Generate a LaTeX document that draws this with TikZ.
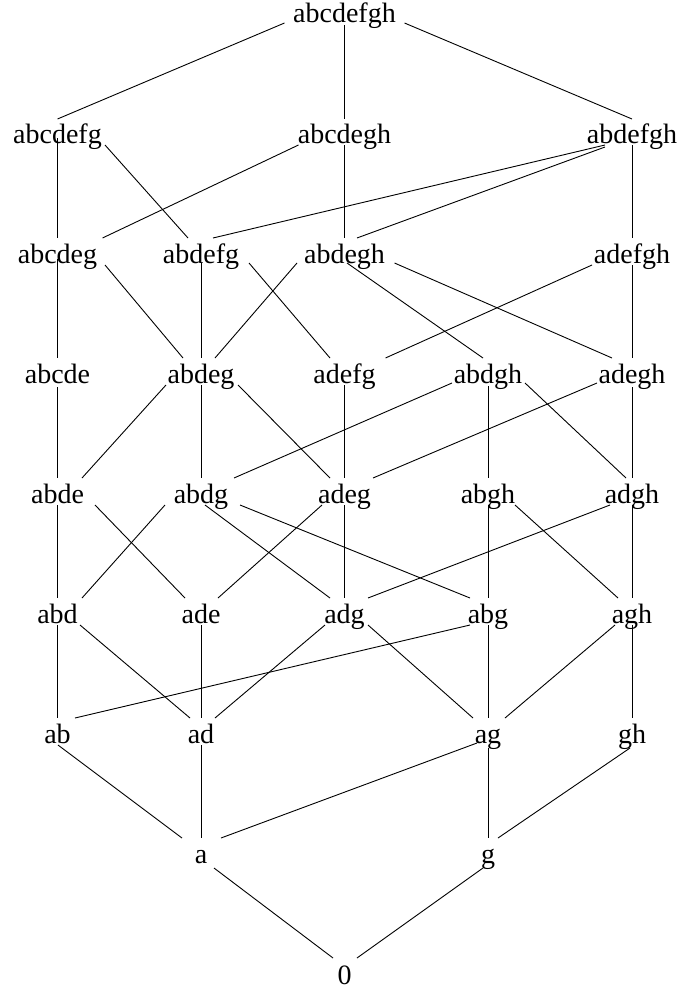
\documentclass[tikz,border=0pt]{standalone}
\usepackage{fontspec}
\setmainfont{Liberation Serif}
\newcommand\lnk[6]{\draw[edge] ([shift={(#2pt,#3pt)}]#1.base) -- ([shift={(#5pt,#6pt)}]#4.base);}
\begin{document}
\begin{tikzpicture}[x=1pt,y=-1pt,
  lbl/.style={anchor=base,inner sep=0pt,font=\fontsize{28}{32}\selectfont},
  edge/.style={line width=0.9pt,black}]
\useasboundingbox (0,0) rectangle (683,990);
% row 0
\node[lbl] (abcdefgh) at (344.5,23) {abcdefgh};
% row 1
\node[lbl] (abcdefg) at (57.5,143) {abcdefg};
\node[lbl] (abcdegh) at (344.5,143) {abcdegh};
\node[lbl] (abdefgh) at (632,143) {abdefgh};
% row 2
\node[lbl] (abcdeg) at (57.5,263) {abcdeg};
\node[lbl] (abdefg) at (201,263) {abdefg};
\node[lbl] (abdegh) at (344.5,263) {abdegh};
\node[lbl] (adefgh) at (632,263) {adefgh};
% row 3
\node[lbl] (abcde) at (57.5,383) {abcde};
\node[lbl] (abdeg) at (201,383) {abdeg};
\node[lbl] (adefg) at (344.5,383) {adefg};
\node[lbl] (abdgh) at (488,383) {abdgh};
\node[lbl] (adegh) at (632,383) {adegh};
% row 4
\node[lbl] (abde) at (57.5,503) {abde};
\node[lbl] (abdg) at (201,503) {abdg};
\node[lbl] (adeg) at (344.5,503) {adeg};
\node[lbl] (abgh) at (488,503) {abgh};
\node[lbl] (adgh) at (632,503) {adgh};
% row 5
\node[lbl] (abd) at (57.5,623) {abd};
\node[lbl] (ade) at (201,623) {ade};
\node[lbl] (adg) at (344.5,623) {adg};
\node[lbl] (abg) at (488,623) {abg};
\node[lbl] (agh) at (632,623) {agh};
% row 6
\node[lbl] (ab) at (57.5,743) {ab};
\node[lbl] (ad) at (201,743) {ad};
\node[lbl] (ag) at (488,743) {ag};
\node[lbl] (gh) at (632,743) {gh};
% row 7
\node[lbl] (a) at (201,863) {a};
\node[lbl] (g) at (488,863) {g};
% row 8
\node[lbl] (zero) at (344.5,984) {0};
% edges
\lnk{abcdefgh}{-60}{0}{abcdefg}{0}{24}
\lnk{abcdefgh}{0}{-2}{abcdegh}{0}{24}
\lnk{abcdefgh}{60}{0}{abdefgh}{0}{24}
\lnk{abcdefg}{0}{5}{abcdeg}{0}{25}
\lnk{abcdefg}{47.5}{-2}{abdefg}{-13}{25}
\lnk{abcdegh}{-46}{-2}{abcdeg}{45}{25}
\lnk{abcdegh}{0}{-2}{abdegh}{0}{25}
\lnk{abdefgh}{-27}{-2}{abdefg}{12}{25}
\lnk{abdefgh}{-27}{-4}{abdegh}{12.5}{25}
\lnk{abdefgh}{0}{-2}{adefgh}{0}{25}
\lnk{abcdeg}{0}{4}{abcde}{0}{25}
\lnk{abcdeg}{47.5}{-2}{abdeg}{-18}{25}
\lnk{abdefg}{0}{0}{abdeg}{0}{25}
\lnk{abdefg}{48}{0}{adefg}{-14.5}{25}
\lnk{abdegh}{-47.5}{0}{abdeg}{14}{25}
\lnk{abdegh}{2.5}{0}{abdgh}{-5}{25}
\lnk{abdegh}{50}{0}{adegh}{-20}{25}
\lnk{adefgh}{-40}{-2}{adefg}{41}{25}
\lnk{adefgh}{0}{-2}{adegh}{0}{25}
\lnk{abcde}{0}{-4}{abde}{0}{25}
\lnk{abdeg}{-35}{-2}{abde}{24.5}{25}
\lnk{abdeg}{0}{-2}{abdg}{0}{25}
\lnk{abdeg}{37}{-2}{adeg}{-14.5}{25}
\lnk{adefg}{0}{-2}{adeg}{0}{25}
\lnk{abdgh}{-36}{0}{abdg}{33}{25}
\lnk{abdgh}{0}{-3}{abgh}{0}{25}
\lnk{abdgh}{37}{0}{adgh}{-6}{25}
\lnk{adegh}{-35}{0}{adeg}{28.5}{25}
\lnk{adegh}{0}{-4}{adgh}{0}{25}
\lnk{abde}{0}{-2}{abd}{0}{25}
\lnk{abde}{37.5}{-2}{ade}{-16}{25}
\lnk{abdg}{-36}{-2}{abd}{24.5}{25}
\lnk{abdg}{4}{-2}{adg}{-14.5}{25}
\lnk{abdg}{39}{-2}{abg}{-18}{25}
\lnk{adeg}{-22.5}{-2}{ade}{17}{25}
\lnk{adeg}{0}{-2}{adg}{0}{25}
\lnk{abgh}{0}{-2}{abg}{0}{25}
\lnk{abgh}{27}{-2}{agh}{-14}{25}
\lnk{adgh}{-22}{-2}{adg}{23.5}{25}
\lnk{adgh}{0}{-2}{agh}{0}{25}
\lnk{abd}{0}{-2}{ab}{0}{25}
\lnk{abd}{22.5}{-2}{ad}{-11}{25}
\lnk{ade}{0}{-2}{ad}{0}{25}
\lnk{adg}{-19.5}{-2}{ad}{14}{25}
\lnk{adg}{23.5}{-2}{ag}{-15}{25}
\lnk{abg}{-18}{-2}{ab}{17.5}{25}
\lnk{abg}{0}{-2}{ag}{0}{25}
\lnk{agh}{-17}{-2}{ag}{17}{25}
\lnk{agh}{0}{-2}{gh}{0}{25}
\lnk{ab}{0.5}{-2}{a}{-19}{25}
\lnk{ad}{0}{-2}{a}{0}{25}
\lnk{ag}{-11}{0}{a}{20}{25}
\lnk{ag}{0}{-5}{g}{0}{25}
\lnk{gh}{-2}{-5}{g}{10}{25}
\lnk{a}{13}{-5}{zero}{-11.5}{26}
\lnk{g}{-5}{-5}{zero}{12.5}{26}
\end{tikzpicture}
\end{document}
